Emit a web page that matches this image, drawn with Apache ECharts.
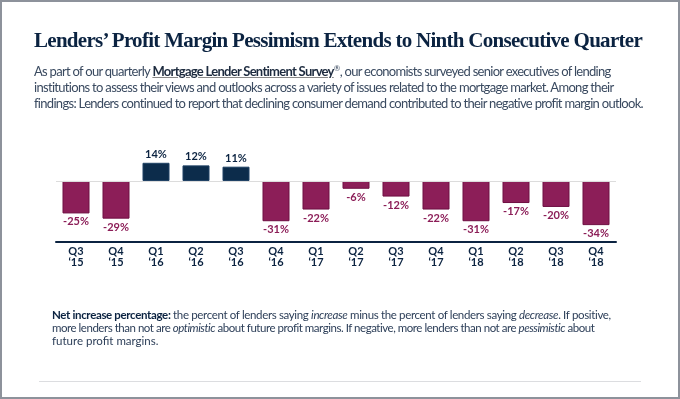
<!DOCTYPE html>
<html>
<head>
<meta charset="utf-8">
<script src="https://cdn.jsdelivr.net/npm/echarts@6/dist/echarts.min.js"></script>
<style>
  html, body { margin: 0; padding: 0; background: #fff; }
  #frame { position: relative; width: 680px; height: 399px; box-sizing: border-box; border: 2px solid #8d929b; overflow: hidden; background: #fff; }
  #chart { position: absolute; left: -2px; top: -2px; width: 680px; height: 399px; }
  .ln { position: absolute; white-space: nowrap; }
  .title { font-family: "Liberation Serif", serif; font-weight: bold; font-size: 21px; color: #0b2341; }
  .para { font-family: Lato, sans-serif; font-size: 13px; color: #3a4a60; }
  .para b.link { color: #1d2b3f; font-weight: bold; text-decoration: underline; text-decoration-color: #888; }
  .para sup { font-size: 8px; line-height: 0; }
  .note { font-family: Lato, sans-serif; font-size: 11.5px; color: #2c3e58; }
  .note b { color: #0b2341; }
  #rule { position: absolute; left: 37px; top: 379px; width: 602px; height: 0; border-top: 1px solid #dcdde0; }
</style>
</head>
<body>
<div id="frame">
  <div id="chart"></div>
  <div class="ln title" data-w="608" style="left:32px; top:26px;">Lenders’ Profit Margin Pessimism Extends to Ninth Consecutive Quarter</div>
  <div class="ln para" data-w="577" style="left:32px; top:61px;">As part of our quarterly <b class="link">Mortgage Lender Sentiment Survey</b><sup>®</sup>, our economists surveyed senior executives of lending</div>
  <div class="ln para" data-w="580" style="left:32px; top:77px;">institutions to assess their views and outlooks across a variety of issues related to the mortgage market. Among their</div>
  <div class="ln para" data-w="609" style="left:32px; top:93px;">findings: Lenders continued to report that declining consumer demand contributed to their negative profit margin outlook.</div>
  <div class="ln note" data-w="559" style="left:50px; top:306px;"><b>Net increase percentage:</b> the percent of lenders saying <i>increase</i> minus the percent of lenders saying <i>decrease</i>. If positive,</div>
  <div class="ln note" data-w="542" style="left:50px; top:319px;">more lenders than not are <i>optimistic</i> about future profit margins. If negative, more lenders than not are <i>pessimistic</i> about</div>
  <div class="ln note" style="left:50px; top:332px;">future profit margins.</div>
  <div id="rule"></div>
</div>
<script>
// ---- data ----
const quarters = ['Q3','Q4','Q1','Q2','Q3','Q4','Q1','Q2','Q3','Q4','Q1','Q2','Q3','Q4'];
const years = ['‘15','‘15','‘16','‘16','‘16','‘16','‘17','‘17','‘17','‘17','‘18','‘18','‘18','‘18'];
const netIncrease = [-25, -29, 14, 12, 11, -31, -22, -6, -12, -22, -31, -17, -20, -34];

const categories = quarters.map((q, i) => q + '\n' + years[i]);

const NAVY = '#0c2c4b', MAGENTA = '#8c1e58', NAVY_TXT = '#0b2341', MAG_TXT = '#8c1e58';

const chart = echarts.init(document.getElementById('chart'), null, { renderer: 'canvas' });
chart.setOption({
  animation: false,
  grid: { left: 56, right: 64, top: 155, bottom: 157 },
  xAxis: {
    type: 'category',
    data: categories,
    position: 'bottom',
    axisLine: { onZero: false, lineStyle: { color: '#0b2341', width: 2 } },
    axisTick: { show: false },
    axisLabel: { interval: 0, margin: 4, color: '#0b2341', fontFamily: 'Lato', fontWeight: 'bold', fontSize: 11, lineHeight: 11 }
  },
  yAxis: {
    type: 'value', min: -47, max: 20, show: false,
    splitLine: { show: false }
  },
  series: [{
    type: 'bar',
    barWidth: 27,
    data: netIncrease.map(v => ({
      value: v,
      itemStyle: { color: v >= 0 ? NAVY : MAGENTA, borderColor: v >= 0 ? '#1e4164' : '#6e0e42', borderWidth: 1 },
      label: { show: true, position: v >= 0 ? 'top' : 'bottom', distance: 3, formatter: '{c}%',
               color: v >= 0 ? NAVY_TXT : MAG_TXT, fontFamily: 'Lato', fontWeight: 'bold', fontSize: 11 }
    })),
    markLine: {
      silent: true, symbol: 'none', label: { show: false },
      lineStyle: { color: '#dcdcdc', width: 1, type: 'solid' },
      data: [{ yAxis: 0 }]
    },
    z: 3
  }]
});

// fit text lines to measured widths in the reference
document.querySelectorAll('.ln[data-w]').forEach(el => {
  const target = parseFloat(el.dataset.w);
  const w = el.getBoundingClientRect().width;
  const n = el.textContent.length;
  el.style.letterSpacing = ((target - w) / n) + 'px';
});
</script>
</body>
</html>
